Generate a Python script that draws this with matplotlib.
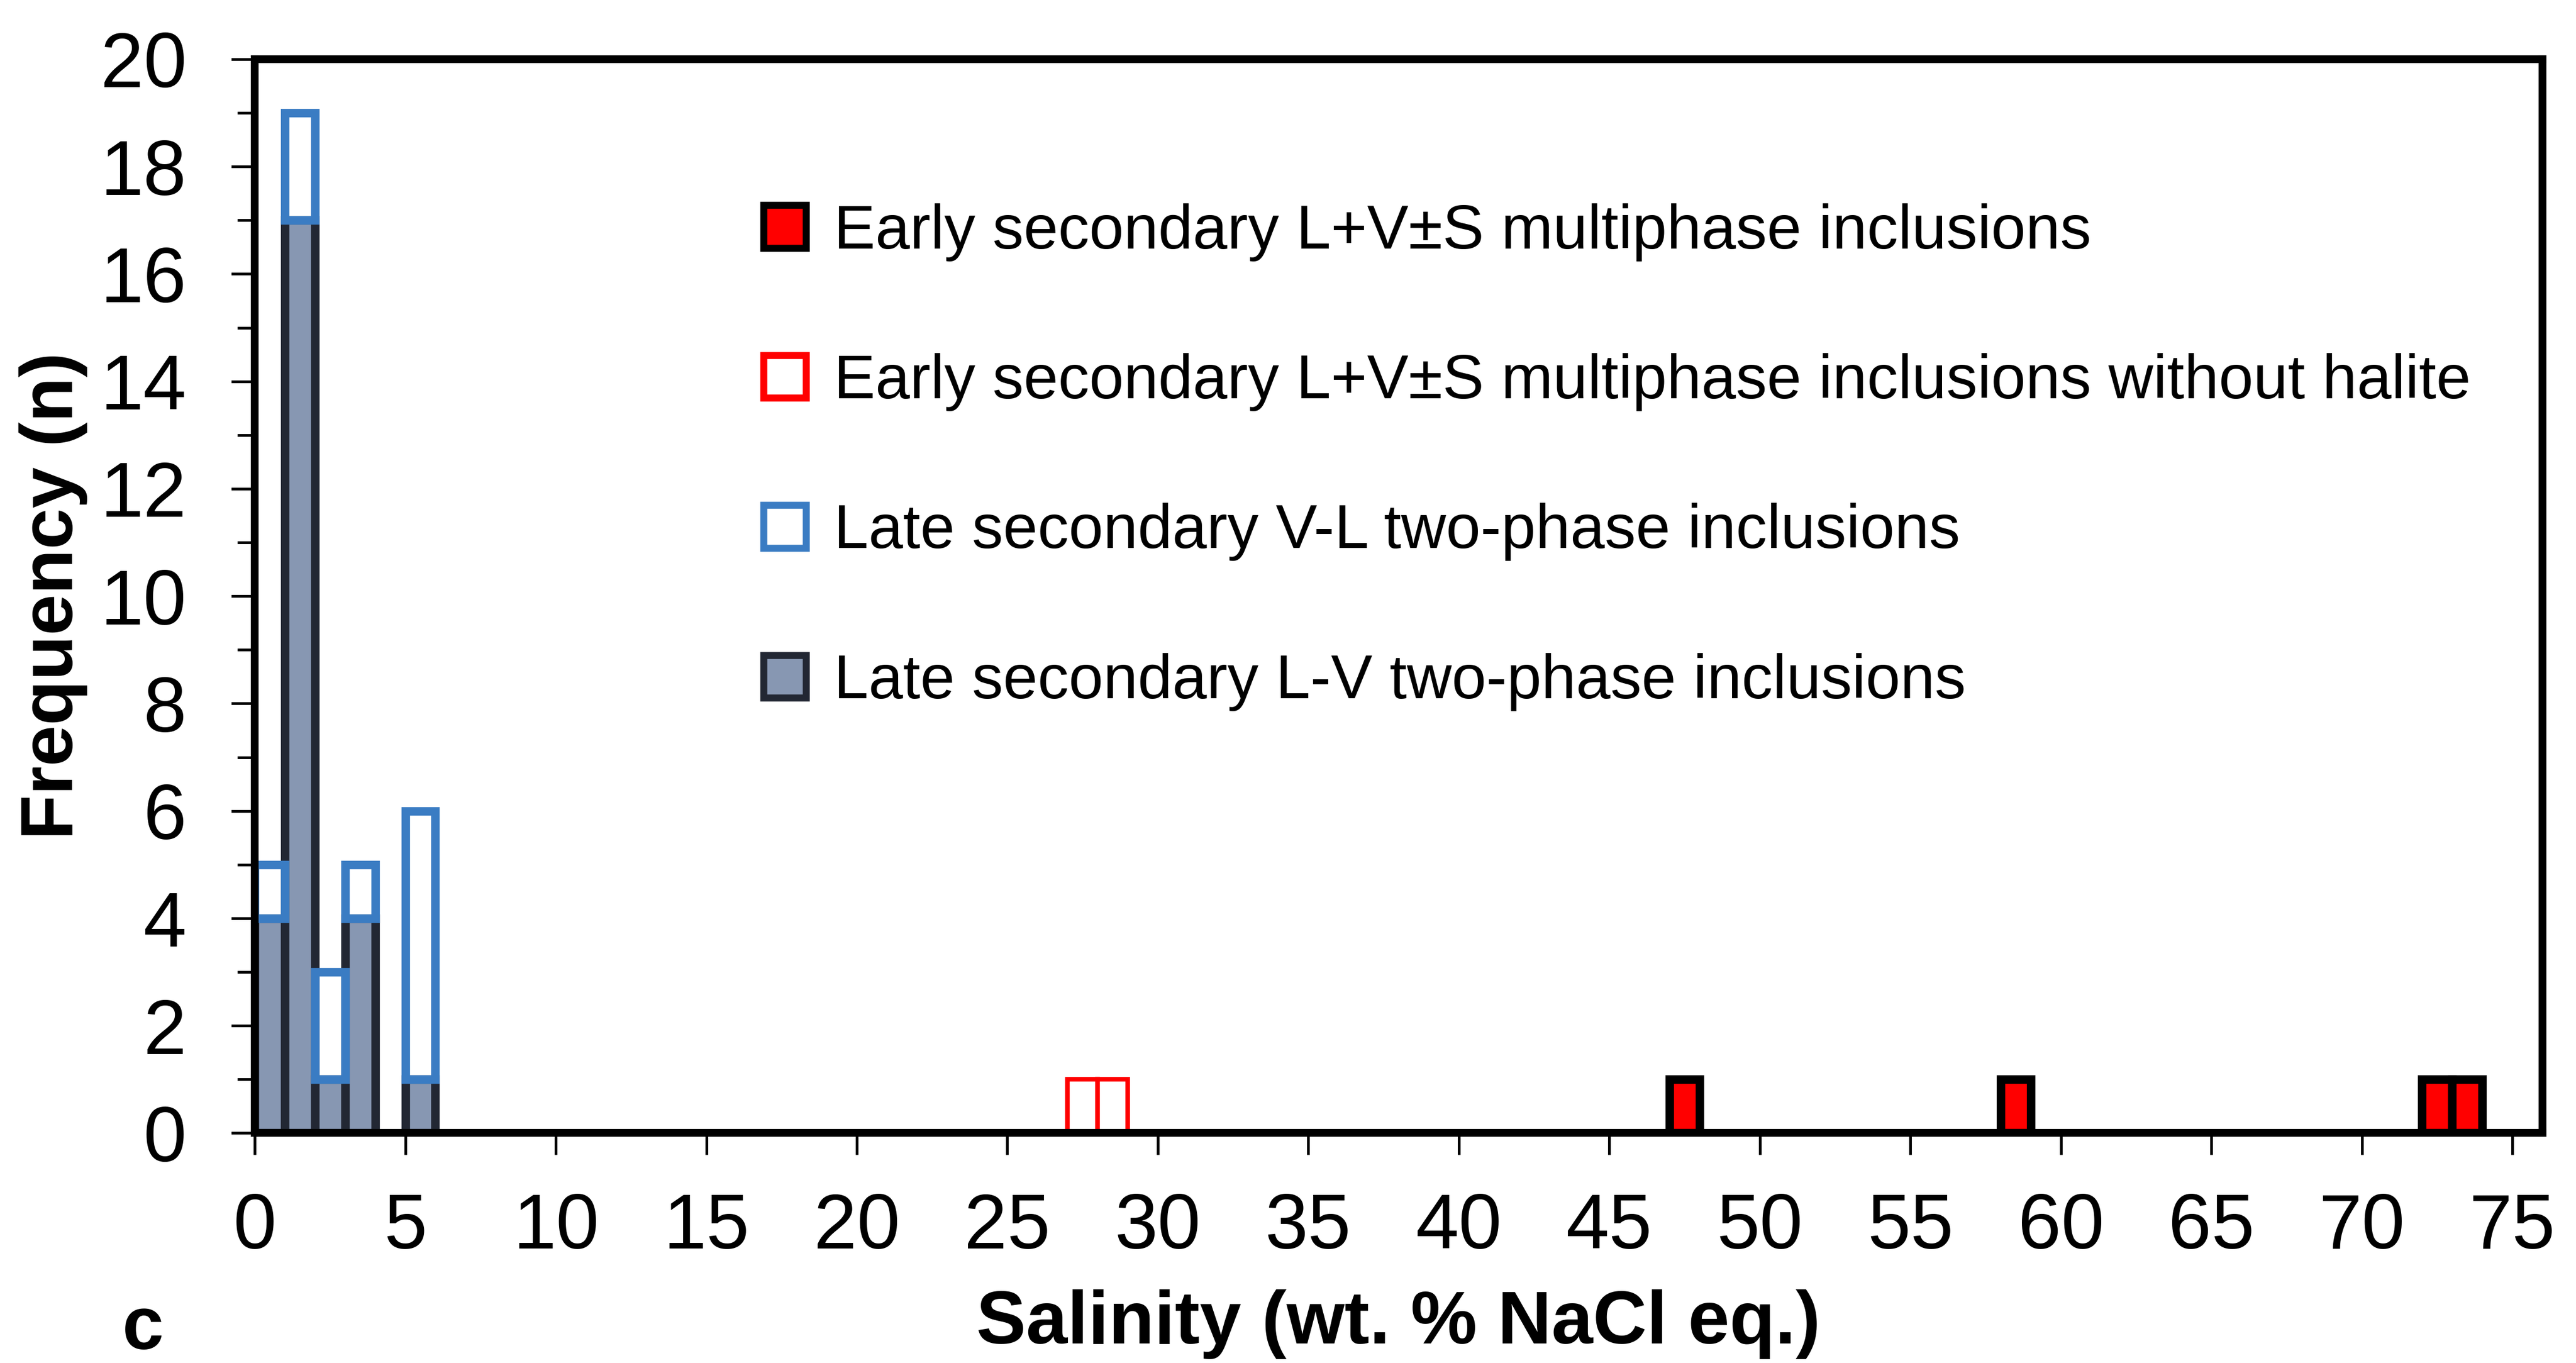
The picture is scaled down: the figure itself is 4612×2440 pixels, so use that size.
import matplotlib
matplotlib.use("Agg")
import matplotlib.pyplot as plt
from matplotlib.patches import Patch
from matplotlib.ticker import MultipleLocator

plt.rcParams['font.family'] = ['Liberation Sans', 'DejaVu Sans']

# bin left edges (wt. % NaCl eq.) and counts, bin width 1
lv_bins = [0, 1, 2, 3, 5]
lv_counts = [4, 17, 1, 4, 1]          # late secondary L-V
vl_bins = [0, 1, 2, 3, 5]
vl_counts = [1, 2, 2, 1, 5]           # late secondary V-L (stacked on L-V)
early_nohal_bins = [27, 28]
early_nohal_counts = [1, 1]
early_bins = [47, 58, 72, 73]
early_counts = [1, 1, 1, 1]

labels = ["Early secondary L+V\u00b1S multiphase inclusions",
          "Early secondary L+V\u00b1S multiphase inclusions without halite",
          "Late secondary V-L two-phase inclusions",
          "Late secondary L-V two-phase inclusions"]

red = "#FF0000"
blue = "#3A7CC3"
slate = "#8797B2"
dark = "#222733"

fig = plt.figure(figsize=(46.12, 24.4), dpi=100)
ax = fig.add_axes([0.0989, 0.1687, 0.8881, 0.7879])

ax.bar(lv_bins, lv_counts, width=1, align='edge', color=slate,
       edgecolor=dark, linewidth=11, zorder=2)
ax.bar(vl_bins, vl_counts, width=1, align='edge', bottom=lv_counts,
       color='none', edgecolor=blue, linewidth=11, zorder=3)
ax.bar(early_nohal_bins, early_nohal_counts, width=1, align='edge',
       color='white', edgecolor=red, linewidth=6, zorder=2)
ax.bar(early_bins, early_counts, width=1, align='edge', color=red,
       edgecolor='black', linewidth=11, zorder=2)

ax.set_xlim(0, 76)
ax.set_ylim(0, 20)
ax.xaxis.set_major_locator(MultipleLocator(5))
ax.yaxis.set_major_locator(MultipleLocator(2))
ax.yaxis.set_minor_locator(MultipleLocator(1))

for s in ax.spines.values():
    s.set_linewidth(10)
    s.set_zorder(5)

ax.tick_params(axis='both', which='major', direction='out', width=3.5,
               labelsize=100)
ax.tick_params(axis='x', which='major', length=28, pad=48)
ax.tick_params(axis='y', which='major', length=30, pad=58)
ax.tick_params(axis='y', which='minor', direction='out', length=22, width=3.5)

ax.set_xlabel("Salinity (wt. % NaCl eq.)", fontsize=96, fontweight='bold',
              labelpad=32)
ax.set_ylabel("Frequency (n)", fontsize=95, fontweight='bold', labelpad=16)

handles = [Patch(facecolor=red, edgecolor='black', linewidth=9),
           Patch(facecolor='white', edgecolor=red, linewidth=9),
           Patch(facecolor='white', edgecolor=blue, linewidth=9),
           Patch(facecolor=slate, edgecolor=dark, linewidth=9)]
ax.legend(handles, labels, loc='upper left', bbox_to_anchor=(0.2225, 0.866),
          frameon=False, fontsize=80, handlelength=0.68, handleheight=0.68,
          handletextpad=0.45, labelspacing=1.48, borderpad=0,
          borderaxespad=0)

fig.text(0.0555, 0.0242, "c", fontsize=96, fontweight='bold', ha='center',
         va='center')

fig.savefig("out.png", dpi=100, facecolor='white')
